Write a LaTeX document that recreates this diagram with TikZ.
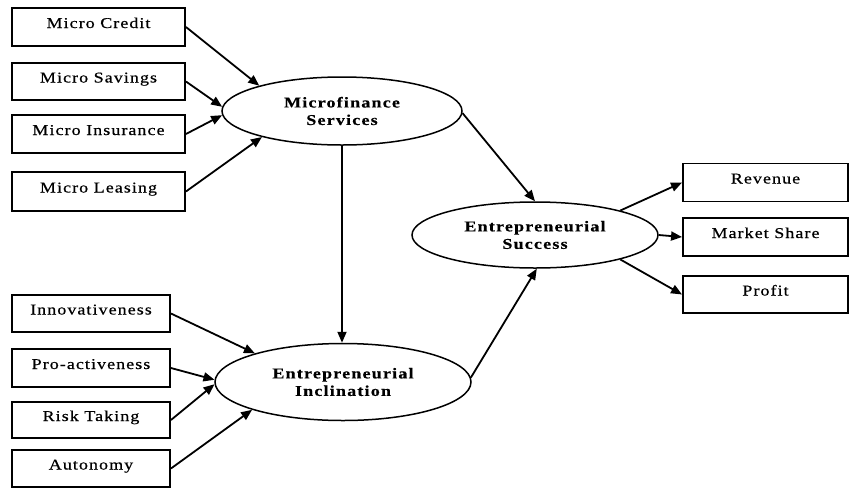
\documentclass[tikz,border=0pt]{standalone}
\usepackage{fontspec}
\setmainfont{Liberation Serif}
\newfontfamily\boxfont[LetterSpace=7,FakeStretch=1.2,FakeBold=0.5]{Liberation Serif}
\newfontfamily\ellfont[LetterSpace=8,FakeStretch=1.2,FakeBold=0.4]{Liberation Serif}
\usetikzlibrary{arrows.meta,shapes.geometric}
\begin{document}
\begin{tikzpicture}[x=1pt,y=-1pt,
  box/.style={draw,line width=1.9pt,rectangle,inner sep=0pt,
    font=\boxfont\fontsize{15}{17}\selectfont,text height=11pt,text depth=9pt},
  lbox/.style={box,minimum width=173pt},
  mbox/.style={box,minimum width=158pt},
  rbox/.style={box,minimum width=165pt},
  ell/.style={draw,ellipse,line width=1.5pt,inner sep=0pt,align=center,
    font=\ellfont\bfseries\fontsize{15}{17.5}\selectfont},
  arr/.style={-{Triangle[length=11pt,width=9pt]},line width=1.8pt}]
\useasboundingbox (0,0) rectangle (849,488);
% left upper boxes
\node[lbox,minimum height=38pt] (credit) at (98.5,27) {Micro Credit};
\node[lbox,minimum height=37pt] (savings) at (98.5,81.5) {Micro Savings};
\node[lbox,minimum height=38pt] (insurance) at (98.5,134) {Micro Insurance};
\node[lbox,minimum height=39pt] (leasing) at (98.5,191.5) {Micro Leasing};
% left lower boxes
\node[mbox,minimum height=37pt] (innov) at (91,313.5) {Innovativeness};
\node[mbox,minimum height=38pt] (proact) at (91,368) {Pro-activeness};
\node[mbox,minimum height=36pt] (risk) at (91,420) {Risk Taking};
\node[mbox,minimum height=37pt] (auton) at (91,468.5) {Autonomy};
% right boxes
\node[rbox,minimum height=38pt] (revenue) at (765.5,182.5) {Revenue};
\node[rbox,minimum height=38pt] (market) at (765.5,237) {Market Share};
\node[rbox,minimum height=37pt] (profit) at (765.5,294.5) {Profit};
% ellipses
\node[ell,minimum width=240pt,minimum height=68pt] (mfs) at (342,111) {Microfinance\\Services};
\node[ell,minimum width=256pt,minimum height=77pt] (ei) at (343,382) {Entrepreneurial\\Inclination};
\node[ell,minimum width=246pt,minimum height=66pt] (es) at (535,235) {Entrepreneurial\\Success};
% arrows
\draw[arr] (credit.east) -- (mfs.163);
\draw[arr] (savings.east) -- (mfs.178);
\draw[arr] (insurance.east) -- (mfs.182);
\draw[arr] (leasing.east) -- (mfs.198);
\draw[arr] (innov.east) -- (ei.162);
\draw[arr] (proact.east) -- (ei.179);
\draw[arr] (risk.east) -- (ei.181);
\draw[arr] (auton.east) -- (ei.197);
\draw[arr] (mfs.south) -- (mfs.south |- ei.north);
\draw[arr] (mfs.-1) -- (es.north);
\draw[arr] (ei.2) -- (es.-87);
\draw[arr] (es.16) -- (revenue.west);
\draw[arr] (es.east) -- (market.west);
\draw[arr] (es.-16) -- (profit.west);
\end{tikzpicture}
\end{document}
